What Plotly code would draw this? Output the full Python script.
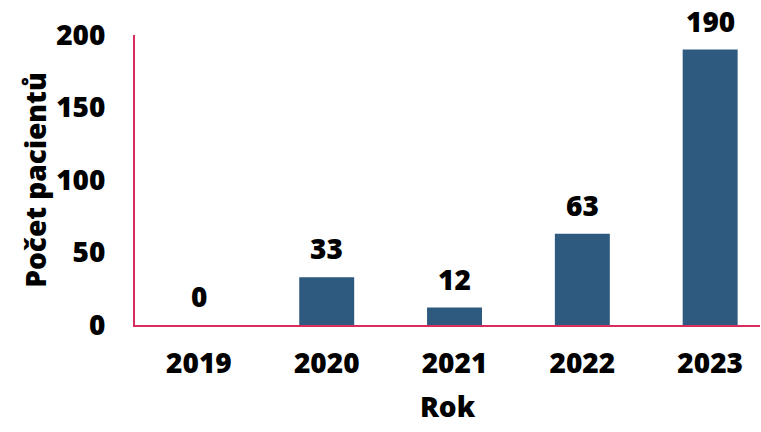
import plotly.graph_objects as go

years = ["2019", "2020", "2021", "2022", "2023"]
patients = [0, 33, 12, 63, 190]
y_ticks = [0, 50, 100, 150, 200]

bar_color = "#2E5A80"
axis_color = "#D92B5C"
font_family = "Open Sans"
fsize = 28

fig = go.Figure()
fig.add_trace(go.Bar(
    x=years,
    y=patients,
    marker=dict(color=bar_color, line=dict(width=0)),
    width=0.43,
    hoverinfo="x+y",
))

# value labels above each bar (category index used as x position)
for i, val in enumerate(patients):
    fig.add_annotation(
        x=i, y=val, xref="x", yref="y",
        text=str(val), showarrow=False,
        yanchor="middle", yshift=29,
        font=dict(family=font_family, size=fsize, color="black", weight=800),
    )

fig.update_layout(
    width=761, height=432,
    margin=dict(l=135, r=1, t=35, b=107),
    paper_bgcolor="white", plot_bgcolor="white",
    showlegend=False,
    font=dict(family=font_family, size=fsize, color="black"),
)
fig.update_xaxes(
    type="category",
    range=[-0.5, 4.39],
    showline=True, linecolor=axis_color, linewidth=2,
    showgrid=False, zeroline=False,
    ticks="outside", ticklen=12, tickcolor="rgba(0,0,0,0)",
    tickfont=dict(family=font_family, size=fsize, color="black", weight=800),
    title=dict(text="Rok", standoff=18,
               font=dict(family=font_family, size=fsize, color="black", weight=800)),
)
fig.update_yaxes(
    range=[0, 200],
    tickvals=y_ticks,
    showline=True, linecolor=axis_color, linewidth=2,
    showgrid=False, zeroline=False,
    ticks="outside", ticklen=22, tickcolor="rgba(0,0,0,0)",
    tickfont=dict(family=font_family, size=fsize, color="black", weight=800),
    title=dict(text="Počet pacientů", standoff=1,
               font=dict(family=font_family, size=fsize, color="black", weight=800)),
)

fig.write_html("out.html")
